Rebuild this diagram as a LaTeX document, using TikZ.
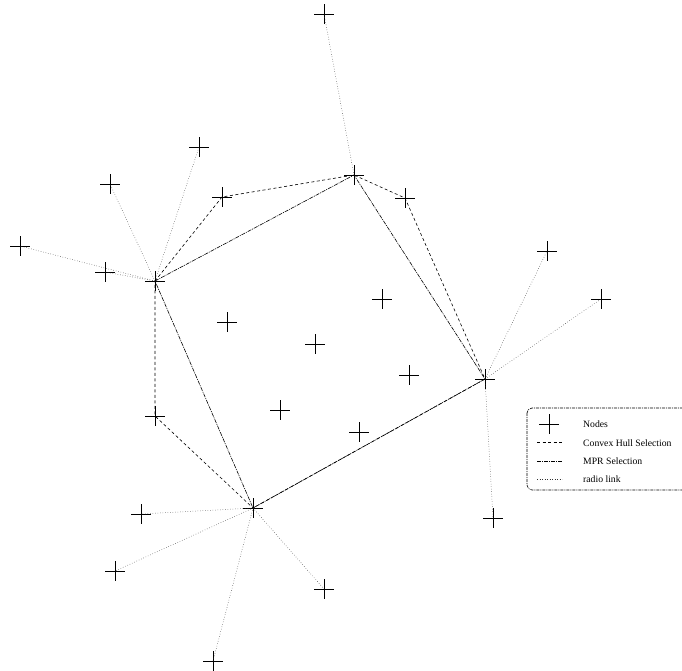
\documentclass[tikz,border=0pt]{standalone}
\usepackage{fontspec}
\setmainfont{Liberation Serif}
\usetikzlibrary{shapes.misc}

\tikzset{
  nd/.style={draw,cross out,rotate=45,minimum size=13.5pt,inner sep=0pt,line width=0.6pt},
  radio/.style={line width=0.5pt,dotted,black!80},
  hull/.style={line width=0.6pt,dash pattern=on 3pt off 2.5pt},
  mpr/.style={line width=0.6pt,dash pattern=on 4pt off 1pt on 1pt off 1pt},
  lgtext/.style={anchor=west,inner sep=0pt,font=\fontsize{9.7}{11}\selectfont}
}

\begin{document}
\begin{tikzpicture}[x=1pt,y=-1pt]
\useasboundingbox (0,0) rectangle (682,670);
% nodes
\node[nd] (n1) at (324,14) {};
\node[nd] (n2) at (199,147) {};
\node[nd] (n3) at (110,184) {};
\node[nd] (n4) at (222,197) {};
\node[nd] (hA) at (354,175) {};
\node[nd] (n6) at (405,198) {};
\node[nd] (n7) at (20,246) {};
\node[nd] (n8) at (105,272) {};
\node[nd] (hB) at (155,281) {};
\node[nd] (n10) at (547,251) {};
\node[nd] (n11) at (601,299) {};
\node[nd] (n12) at (382,299) {};
\node[nd] (n13) at (227,322) {};
\node[nd] (n14) at (315,344) {};
\node[nd] (n15) at (409,375) {};
\node[nd] (hC) at (485,379) {};
\node[nd] (n17) at (280,410) {};
\node[nd] (n18) at (155,416) {};
\node[nd] (n19) at (359,432) {};
\node[nd] (hD) at (253,508) {};
\node[nd] (n21) at (141,514) {};
\node[nd] (n22) at (493,518) {};
\node[nd] (n23) at (115,571) {};
\node[nd] (n24) at (324,589) {};
\node[nd] (n25) at (213,661) {};

% radio links
\foreach \a/\b in {hB/n3,hB/n2,hB/n7,hB/n8,hA/n1,hC/n10,hC/n11,hC/n22,
                   hD/n21,hD/n23,hD/n25,hD/n24}
  \draw[radio] (\a.center) -- (\b.center);

% convex hull
\draw[hull] (hB.center) -- (n4.center) -- (hA.center) -- (n6.center) -- (hC.center)
  -- (hD.center) -- (n18.center) -- (hB.center);

% MPR
\draw[mpr] (hB.center) -- (hA.center) -- (hC.center) -- (hD.center) -- (hB.center);

% legend
\draw[line width=0.6pt,dash pattern=on 3pt off 1pt on 1pt off 1pt,rounded corners=5pt]
  (527,408) rectangle (700,490);
\node[nd] (lgnode) at (549,424) {};
\node[lgtext] (lgt1) at (583,424) {Nodes};
\node[lgtext] (lgt2) at (583,443) {Convex Hull Selection};
\node[lgtext] (lgt3) at (583,461) {MPR Selection};
\node[lgtext] (lgt4) at (583,479) {radio link};
\coordinate (lh1) at (537,442);
\coordinate (lh2) at (562,442);
\coordinate (lm1) at (537,461);
\coordinate (lm2) at (562,461);
\coordinate (lr1) at (537,479);
\coordinate (lr2) at (562,479);
\draw[hull] (lh1) -- (lh2);
\draw[mpr] (lm1) -- (lm2);
\draw[radio] (lr1) -- (lr2);
\end{tikzpicture}
\end{document}
